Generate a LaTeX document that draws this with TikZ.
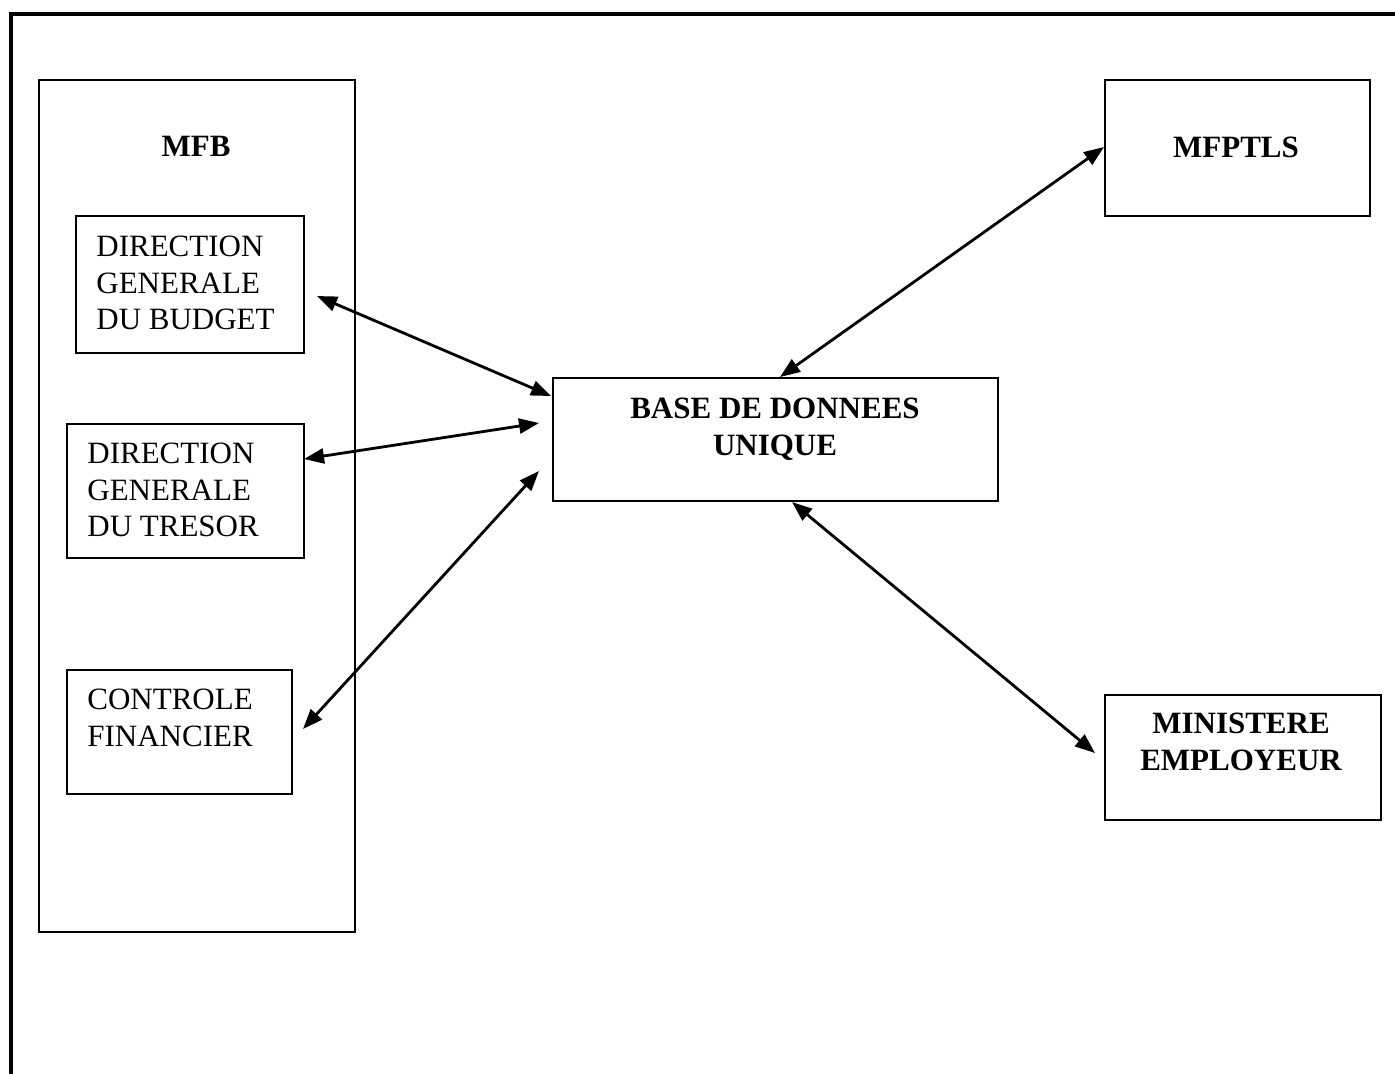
\documentclass[tikz,border=0pt]{standalone}
\usepackage{fontspec}
\setmainfont{Liberation Serif}
\usetikzlibrary{arrows.meta}

\begin{document}
\begin{tikzpicture}[x=0.5pt, y=-0.5pt,
  box/.style={draw, line width=1pt, inner sep=0pt, anchor=north west},
  txt/.style={inner sep=0pt, font=\fontsize{15.5}{18.25}\selectfont},
  ttl/.style={txt, font=\fontsize{15.5}{18.25}\selectfont\bfseries},
  link/.style={line width=1.4pt, {Triangle[length=10pt,width=7.5pt]}-{Triangle[length=10pt,width=7.5pt]}}]

  \useasboundingbox (0,0) rectangle (1395,1073);

  % page frame (left and top edges)
  \draw[line width=2.2pt] (11,1090) -- (11,14) -- (1410,14);

  % ministry of finance block and its departments
  \node[box, minimum width=158pt, minimum height=426pt] (mfb) at (38,79) {};
  \node[box, minimum width=114pt, minimum height=68.5pt] (dgb) at (75,215) {};
  \node[box, minimum width=118.5pt, minimum height=67pt] (dgt) at (66,423) {};
  \node[box, minimum width=112.5pt, minimum height=62pt] (cf) at (66,669) {};

  % central database and partner ministries
  \node[box, minimum width=222.5pt, minimum height=61.5pt] (bdu) at (552,377) {};
  \node[box, minimum width=132.5pt, minimum height=68pt] (mfptls) at (1104,79) {};
  \node[box, minimum width=138pt, minimum height=62.5pt] (me) at (1104,694) {};

  % labels
  \node[ttl] (tmfb) at (196,146) {MFB};
  \node[txt, anchor=north west, align=left] (tdgb) at (96,236) {DIRECTION\\GENERALE\\DU BUDGET};
  \node[txt, anchor=north west, align=left] (tdgt) at (87,443) {DIRECTION\\GENERALE\\DU TRESOR};
  \node[txt, anchor=north west, align=left] (tcf) at (87,689) {CONTROLE\\FINANCIER};
  \node[ttl, anchor=north, align=center] (tbdu) at (775,398) {BASE DE DONNEES\\UNIQUE};
  \node[ttl] (tmfptls) at (1236,147) {MFPTLS};
  \node[ttl, anchor=north, align=center] (tme) at (1241,713) {MINISTERE\\EMPLOYEUR};

  % connector end points
  \coordinate (a1) at (317,296);  \coordinate (a2) at (551,396);
  \coordinate (b1) at (304,459);  \coordinate (b2) at (539,423);
  \coordinate (c1) at (303,729);  \coordinate (c2) at (539,471);
  \coordinate (d1) at (780,377);  \coordinate (d2) at (1104,147);
  \coordinate (e1) at (792,502);  \coordinate (e2) at (1095,753);

  % two-way exchanges with the database
  \draw[link] (a1) -- (a2);
  \draw[link] (b1) -- (b2);
  \draw[link] (c1) -- (c2);
  \draw[link] (d1) -- (d2);
  \draw[link] (e1) -- (e2);
\end{tikzpicture}
\end{document}
